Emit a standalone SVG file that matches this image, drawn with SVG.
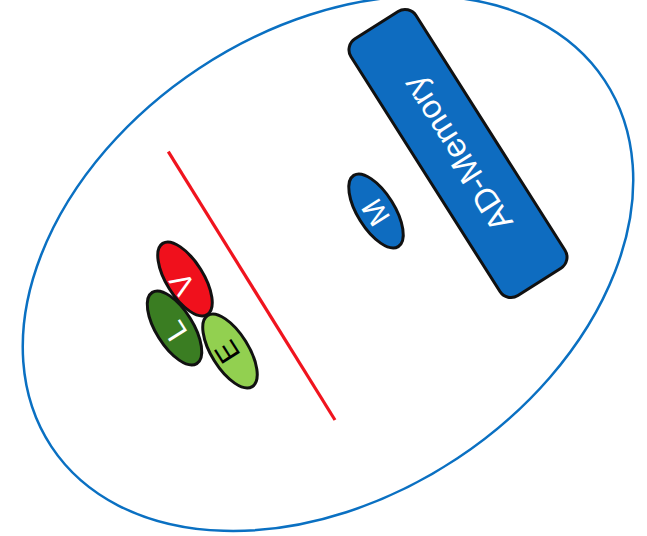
<svg xmlns="http://www.w3.org/2000/svg" width="647" height="536" viewBox="0 0 647 536">
<style>
.lbl{font-family:"Liberation Sans",Arial,sans-serif;text-anchor:middle;dominant-baseline:central}
.node{stroke:#111;stroke-width:3}
</style>
<rect width="647" height="536" fill="#fff"/>
<g id="boundary">
<ellipse cx="328" cy="263.5" rx="331.7" ry="233.9" transform="rotate(-33.5 328 263.5)" fill="none" stroke="#0a70c2" stroke-width="2.5"/>
</g>
<g id="connectors">
<line x1="168.3" y1="151.7" x2="335" y2="420" stroke="#f0141e" stroke-width="3.2"/>
</g>
<g id="ad-memory">
<rect class="node" x="-152" y="-38.5" width="304" height="77" rx="13" transform="translate(458 153.5) rotate(57.6)" fill="#0e6cc0"/>
<text class="lbl" transform="translate(457 154) rotate(237.6)" font-size="33" fill="#fff">AD-Memory</text>
</g>
<g id="M">
<ellipse class="node" cx="0" cy="0" rx="42" ry="18.5" transform="translate(376 211) rotate(58)" fill="#0e6cc0"/>
<text class="lbl" transform="translate(375.5 212.5) rotate(237.6)" font-size="30" fill="#fff">M</text>
</g>
<g id="V">
<ellipse class="node" cx="0" cy="0" rx="42" ry="18.5" transform="translate(185 279) rotate(58)" fill="#f0101c"/>
<text class="lbl" transform="translate(182 284) rotate(237.6)" font-size="30" fill="#fff">V</text>
</g>
<g id="L">
<ellipse class="node" cx="0" cy="0" rx="42" ry="18.5" transform="translate(174.5 328) rotate(58)" fill="#3a7d22"/>
<text class="lbl" transform="translate(175 331) rotate(237.6)" font-size="30" fill="#fff">L</text>
</g>
<g id="E">
<ellipse class="node" cx="0" cy="0" rx="42" ry="18.5" transform="translate(230 351) rotate(58)" fill="#92d050"/>
<text class="lbl" transform="translate(227 352) rotate(237.6)" font-size="30" fill="#000">E</text>
</g>
</svg>
